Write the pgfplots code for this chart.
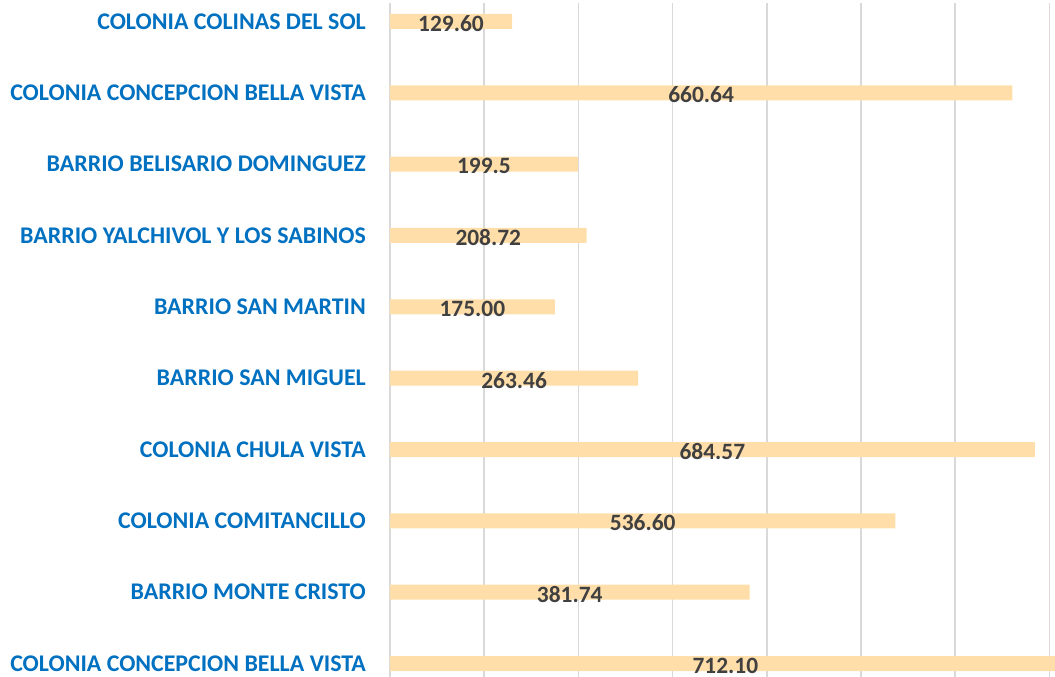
\documentclass[border=0pt]{standalone}
\usepackage{fontspec}
\setmainfont{Carlito}
\usepackage{pgfplots}
\usepackage{pgfplotstable}
\pgfplotsset{compat=1.18}
\definecolor{barc}{RGB}{255,222,170}
\definecolor{catblue}{RGB}{0,112,192}
\definecolor{labc}{RGB}{64,64,64}
\definecolor{gridc}{RGB}{217,217,217}
\pgfplotstableread{
idx val lab
0 129.60 129.60
1 660.64 660.64
2 199.5 199.5
3 208.72 208.72
4 175.00 175.00
5 263.46 263.46
6 684.57 684.57
7 536.60 536.60
8 381.74 381.74
9 712.10 712.10
}\data
\begin{document}
\begin{tikzpicture}
\begin{axis}[name=ax, scale only axis, width=665bp, height=674bp,
  xmin=0, xmax=706, ymin=-0.259, ymax=9.189, y dir=reverse,
  xtick={0,100,...,700}, xticklabels={}, xmajorgrids,
  grid style={gridc, line width=1.5bp},
  ytick={0,...,9},
  yticklabels={COLONIA COLINAS DEL SOL, COLONIA CONCEPCION BELLA VISTA, BARRIO BELISARIO DOMINGUEZ, BARRIO YALCHIVOL Y LOS SABINOS, BARRIO SAN MARTIN, BARRIO SAN MIGUEL, COLONIA CHULA VISTA, COLONIA COMITANCILLO, BARRIO MONTE CRISTO, COLONIA CONCEPCION BELLA VISTA},
  yticklabel style={font=\fontsize{24}{28}\selectfont\bfseries, text=catblue, inner sep=0pt, xshift=-24bp},
  major tick length=0, axis line style={draw=none},
]
\addplot[xbar, bar width=15bp, fill=barc, draw=none] table[x=val, y=idx]{\data};
\addplot[draw=none, mark=none, forget plot, nodes near coords, point meta=explicit symbolic,
  nodes near coords style={font=\fontsize{23.5}{26}\selectfont\bfseries, text=labc, anchor=center, yshift=-2bp, inner sep=0pt}]
  table[x expr=\thisrow{val}/2, y=idx, meta=lab]{\data};
\end{axis}
\pgfresetboundingbox
\path[use as bounding box] ([xshift=-390bp]ax.south west) rectangle ([yshift=3bp]ax.north east);
\end{tikzpicture}
\end{document}
